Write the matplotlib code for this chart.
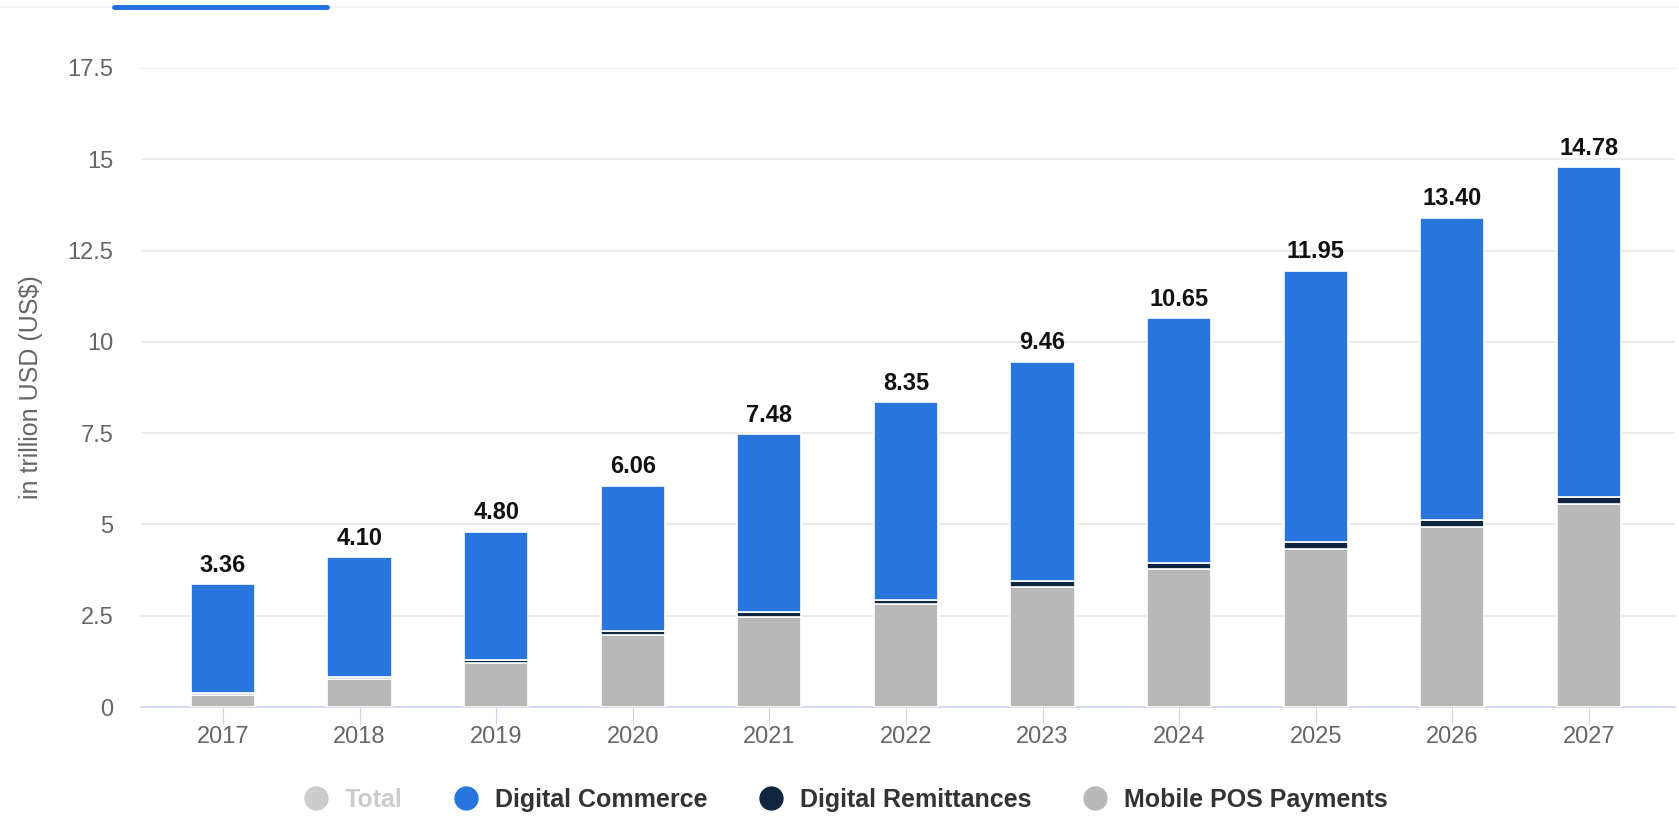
import matplotlib
matplotlib.use("Agg")
import matplotlib.pyplot as plt
from matplotlib.lines import Line2D
import numpy as np

plt.rcParams['font.family'] = ['Liberation Sans', 'DejaVu Sans']

years = ['2017', '2018', '2019', '2020', '2021', '2022', '2023', '2024', '2025', '2026', '2027']
mobile_pos = [0.33, 0.76, 1.20, 1.98, 2.47, 2.81, 3.30, 3.78, 4.33, 4.94, 5.55]
remittances = [0.05, 0.07, 0.08, 0.10, 0.12, 0.13, 0.14, 0.17, 0.18, 0.19, 0.20]
totals = [3.36, 4.10, 4.80, 6.06, 7.48, 8.35, 9.46, 10.65, 11.95, 13.40, 14.78]
# digital commerce = rest of the total
commerce = [round(t - p - r, 2) for t, p, r in zip(totals, mobile_pos, remittances)]

c_comm = '#2876dd'
c_remit = '#0f2640'
c_pos = '#b8b8b8'
c_total = '#cccccc'

fig = plt.figure(figsize=(16.79, 8.17), dpi=100)
ax = fig.add_axes([0.084, 0.1346, 0.9136, 0.7822])

x = np.arange(len(years))
w = 0.47
pos = np.array(mobile_pos)
rem = np.array(remittances)
com = np.array(commerce)

ax.bar(x, pos, w, color=c_pos, edgecolor='white', linewidth=1.2, zorder=3)
ax.bar(x, rem, w, bottom=pos, color=c_remit, edgecolor='white', linewidth=1.2, zorder=3)
ax.bar(x, com, w, bottom=pos + rem, color=c_comm, edgecolor='white', linewidth=1.2, zorder=3)

for xi, t in zip(x, totals):
    ax.text(xi, t + 0.2, f'{t:.2f}', ha='center', va='bottom', fontsize=17,
            fontweight='bold', color='#111111', zorder=4)

ax.set_xlim(-0.6, 10.63)
ax.set_ylim(0, 17.5)
ax.set_yticks([0, 2.5, 5, 7.5, 10, 12.5, 15, 17.5])
ax.set_yticklabels(['0', '2.5', '5', '7.5', '10', '12.5', '15', '17.5'])
ax.set_xticks(x)
ax.set_xticklabels(years)

ax.grid(axis='y', color='#e6e6e6', linewidth=1.2, zorder=0)
ax.set_axisbelow(True)
for s in ['top', 'right', 'left']:
    ax.spines[s].set_visible(False)
ax.spines['bottom'].set_color('#ccd6eb')
ax.spines['bottom'].set_linewidth(1.2)
ax.tick_params(axis='y', length=0, labelsize=17, labelcolor='#666666', pad=20)
ax.tick_params(axis='x', length=12, color='#ccd6eb', labelsize=17,
               labelcolor='#666666', pad=2)

ax.set_ylabel('in trillion USD (US$)', fontsize=18, color='#666666')
ax.yaxis.set_label_coords(-0.064, 0.5)

# legend
handles = [
    Line2D([], [], marker='o', linestyle='', markersize=16.5, color=c_total),
    Line2D([], [], marker='o', linestyle='', markersize=16.5, color=c_comm),
    Line2D([], [], marker='o', linestyle='', markersize=16.5, color=c_remit),
    Line2D([], [], marker='o', linestyle='', markersize=16.5, color=c_pos),
]
labels = ['Total', 'Digital Commerce', 'Digital Remittances', 'Mobile POS Payments']
leg = fig.legend(handles, labels, loc='center', bbox_to_anchor=(0.504, 0.021), ncol=4,
                 frameon=False, handlelength=0.9, handletextpad=0.7, columnspacing=2.1,
                 borderpad=0, prop={'weight': 'bold', 'size': 18})
for txt in leg.get_texts():
    txt.set_color('#333333')
leg.get_texts()[0].set_color(c_total)

# top tab strip
fig.add_artist(Line2D([0, 1], [0.9915, 0.9915], color='#f0f2f5', linewidth=1.5))
fig.add_artist(Line2D([114 / 1679, 327 / 1679], [0.9915, 0.9915], color='#1e6fe0',
                      linewidth=3.5, solid_capstyle='round'))

fig.savefig('out.png', dpi=100)
